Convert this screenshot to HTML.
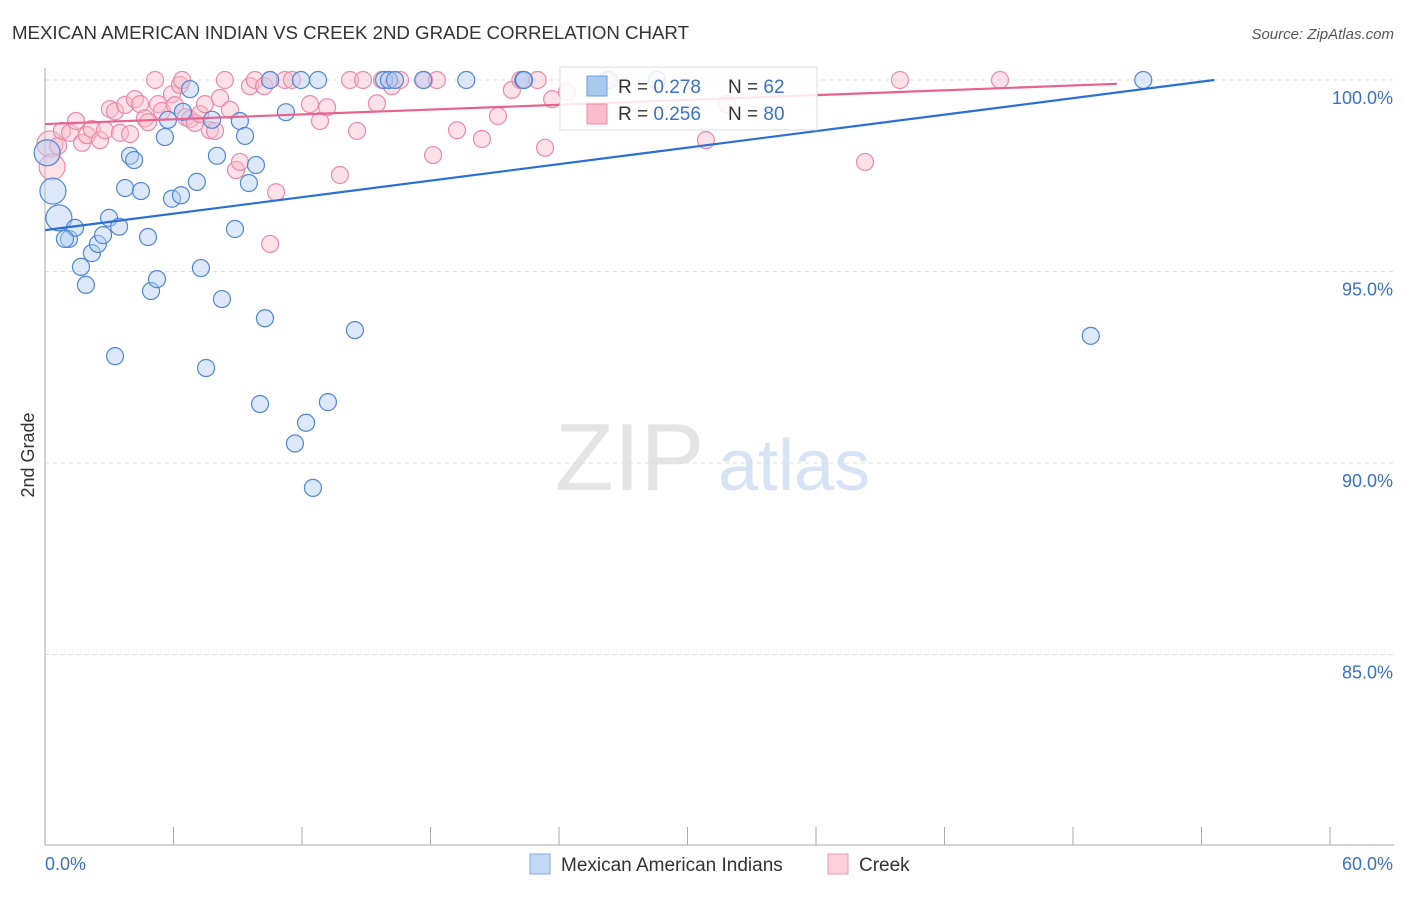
<!DOCTYPE html>
<html><head><meta charset="utf-8"><style>
body{margin:0;background:#fff;font-family:"Liberation Sans",sans-serif}
svg text{font-family:"Liberation Sans",sans-serif}
</style></head><body>
<svg id="chart" width="1406" height="892" xmlns="http://www.w3.org/2000/svg">
<text x="12" y="39" font-size="18.7" fill="#333" textLength="677">MEXICAN AMERICAN INDIAN VS CREEK 2ND GRADE CORRELATION CHART</text>
<text x="1394" y="39" font-size="15" fill="#555" text-anchor="end" font-style="italic">Source: ZipAtlas.com</text>
<text x="34" y="455" font-size="18" fill="#333" text-anchor="middle" transform="rotate(-90 34 455)">2nd Grade</text>
<text x="555" y="490" font-size="96" fill="#e4e4e4" font-family="Liberation Serif">ZIP</text>
<text x="718" y="490" font-size="72" fill="#d6e3f5">atlas</text>
<g id="grid"></g><g id="axes"></g><g id="pts"></g><g id="lines"></g>
<g>
<rect x="560" y="67" width="257" height="63" fill="#fff" fill-opacity="0.85" stroke="#ddd"/>
<rect x="587" y="76" width="20" height="20" fill="#a9c8f0" stroke="#6a9be0"/>
<rect x="587" y="104" width="20" height="20" fill="#f8bccd" stroke="#ec8aa8"/>
<text x="618" y="93" font-size="19" fill="#333">R = <tspan fill="#3a70c8">0.278</tspan></text>
<text x="728" y="93" font-size="19" fill="#333">N = <tspan fill="#3a70c8">62</tspan></text>
<text x="618" y="120" font-size="19" fill="#333">R = <tspan fill="#3a70c8">0.256</tspan></text>
<text x="728" y="120" font-size="19" fill="#333">N = <tspan fill="#3a70c8">80</tspan></text>
</g>
<g>
<rect x="530" y="854" width="20" height="20" fill="#c3d8f5" stroke="#7fa8e3"/>
<text x="561" y="871" font-size="19" fill="#333">Mexican American Indians</text>
<rect x="828" y="854" width="20" height="20" fill="#fbd0dc" stroke="#ee9ab4"/>
<text x="859" y="871" font-size="19" fill="#333">Creek</text>
</g>
</svg>
<script>
const blueX=[0.37,0.65,1.12,1.4,0.93,1.68,1.91,2.19,2.47,2.71,2.99,3.27,3.46,3.74,3.97,4.16,4.48,4.81,4.95,5.23,5.6,5.74,5.93,6.35,6.44,6.77,7.09,7.28,7.52,7.8,8.03,8.26,8.87,9.1,9.34,9.52,9.85,10.04,10.27,10.51,11.25,11.67,11.95,12.19,12.51,12.75,13.21,14.47,15.83,16.06,16.34,17.66,19.67,22.33,22.37,26.33,28.57,48.83,51.28,0.1];
const blueY=[97.1,96.4,95.85,96.14,95.85,95.12,94.65,95.48,95.72,95.95,96.4,92.79,96.17,97.18,98.02,97.91,97.1,95.9,94.49,94.8,98.51,98.96,96.9,96.99,99.17,99.76,97.34,95.09,92.48,98.96,98.02,94.28,96.11,98.93,98.54,97.31,97.78,91.54,93.78,100,99.16,90.51,100,91.05,89.35,100,91.59,93.47,100,100,100,100,100,100,100,100,100,93.32,100,98.1];
const blueBig=[1,1,0,0,0,0,0,0,0,0,0,0,0,0,0,0,0,0,0,0,0,0,0,0,0,0,0,0,0,0,0,0,0,0,0,0,0,0,0,0,0,0,0,0,0,0,0,0,0,0,0,0,0,0,0,0,0,0,0,1];
const pinkX=[0.23,0.33,0.61,0.79,1.17,1.45,1.73,1.96,2.19,2.57,2.8,3.03,3.27,3.5,3.74,3.97,4.2,4.44,4.67,4.81,5.14,5.28,5.46,5.93,6.07,6.3,6.4,6.58,6.77,7.0,7.24,7.47,7.7,7.94,8.17,8.4,8.64,8.92,9.1,9.57,9.8,10.23,10.51,10.51,10.79,11.2,11.53,12.37,12.84,13.17,13.77,14.24,14.57,14.85,15.5,15.74,16.2,16.58,17.7,18.12,18.3,19.24,20.4,21.15,21.8,22.2,23.0,23.35,23.68,24.37,26.19,30.86,31.84,38.29,39.92,44.59];
const pinkY=[98.33,97.73,98.28,98.67,98.62,98.93,98.36,98.56,98.72,98.43,98.69,99.24,99.18,98.62,99.35,98.59,99.5,99.37,99.0,98.9,100,99.37,99.19,99.63,99.34,99.87,100,99.03,98.98,98.88,99.11,99.37,98.69,98.67,99.53,100,99.22,97.65,97.86,99.84,100,99.84,100,95.72,97.07,100,100,99.37,98.93,99.29,97.52,100,98.67,100,99.39,100,99.84,100,100,98.04,100,98.69,98.46,99.06,99.74,100,100,98.23,99.5,99.69,100,98.43,99.37,97.86,100,100];
const pinkBig=[1,1,0,0,0,0,0,0,0,0,0,0,0,0,0,0,0,0,0,0,0,0,0,0,0,0,0,0,0,0,0,0,0,0,0,0,0,0,0,0,0,0,0,0,0,0,0,0,0,0,0,0,0,0,0,0,0,0,0,0,0,0,0,0,0,0,0,0,0,0,0,0,0,0,0,0];
const yTicks=[100,95,90,85];
const yTickLabels=["100.0%","95.0%","90.0%","85.0%"];
const xTicks=[0,6,12,18,24,30,36,42,48,54,60];
const blueTrend=[[0,96.08],[54.6,100]];
const pinkTrend=[[0,98.85],[50.05,99.9]];
const NS='http://www.w3.org/2000/svg';
const sx=v=>45+v/60*1285, sy=v=>80+(100-v)*38.3;
function mk(tag,attrs,parent){const e=document.createElementNS(NS,tag);for(const k in attrs)e.setAttribute(k,attrs[k]);document.getElementById(parent).appendChild(e);return e;}
yTicks.forEach((t,i)=>{
 const l=mk('line',{x1:45,x2:1394,y1:sy(t),y2:sy(t),stroke:'#ddd','stroke-dasharray':'4,4'},'grid');
 
 
 const tx=mk('text',{x:1393,y:sy(t)+24,'font-size':18,fill:'#3a70c8','text-anchor':'end'},'axes');
 tx.textContent=yTickLabels[i];
 
 
});
const ya=mk('line',{x1:45,x2:45,y1:68,y2:845,stroke:'#aaa'},'axes');


const xa=mk('line',{x1:45,x2:1394,y1:845,y2:845,stroke:'#aaa'},'axes');


xTicks.forEach(t=>{
 const l=mk('line',{x1:sx(t),x2:sx(t),y1:827,y2:845,stroke:'#aaa'},'axes');
 
 
});
const x0=mk('text',{x:45,y:870,'font-size':18,fill:'#3a70c8'},'axes');x0.textContent='0.0%';


const x1=mk('text',{x:1393,y:870,'font-size':18,fill:'#3a70c8','text-anchor':'end'},'axes');x1.textContent='60.0%';


function pts(X,Y,B,fill,stroke,name){X.forEach((x,i)=>{
 const c=mk('circle',{cx:sx(x),cy:sy(Y[i]),r:B[i]?13:8.5,fill:fill,'fill-opacity':0.45,stroke:stroke,'stroke-width':1.2},'pts');
 
 
});}
pts(pinkX,pinkY,pinkBig,'#f8bccd','#ec8aa8','creek-point');
pts(blueX,blueY,blueBig,'#b3cef3','#4f86d8','mexican-american-indian-point');
const bl=mk('line',{x1:sx(blueTrend[0][0]),y1:sy(blueTrend[0][1]),x2:sx(blueTrend[1][0]),y2:sy(blueTrend[1][1]),stroke:'#2a6fd6','stroke-width':2.2},'lines');


const pl=mk('line',{x1:sx(pinkTrend[0][0]),y1:sy(pinkTrend[0][1]),x2:sx(pinkTrend[1][0]),y2:sy(pinkTrend[1][1]),stroke:'#e8628c','stroke-width':2.2},'lines');


</script>
</body></html>
